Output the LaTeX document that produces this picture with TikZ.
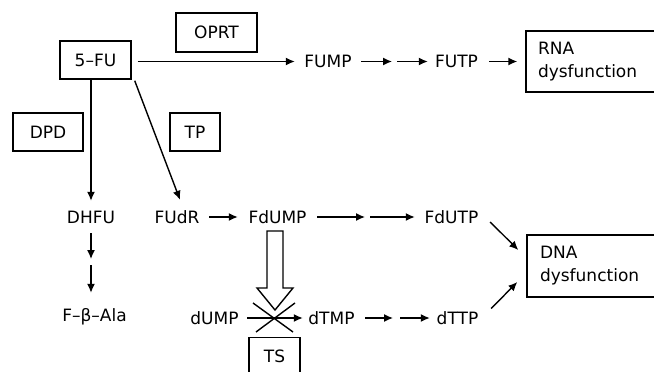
\documentclass[tikz,border=0pt]{standalone}
\usepackage{fontspec}
\setmainfont{DejaVu Sans}
\usetikzlibrary{arrows.meta}
\begin{document}
\begin{tikzpicture}[x=1pt,y=-1pt,
  every node/.style={font=\fontsize{17}{23}\selectfont},
  box/.style={draw, line width=1.4pt, inner sep=0pt},
  lbl/.style={inner sep=0pt},
  arr/.style={-{Latex[length=9pt,width=8pt]}, line width=1.4pt},
  ln/.style={line width=1.4pt}]
\useasboundingbox (0,0) rectangle (654,372);
\clip (0,0) rectangle (654,372);
% boxes
\node[box, minimum width=71pt, minimum height=38pt] (fu) at (95.5,60) {5–FU};
\node[box, minimum width=81pt, minimum height=39pt] (oprt) at (216.5,32.5) {OPRT};
\node[box, minimum width=70pt, minimum height=38pt] (dpd) at (48,132) {DPD};
\node[box, minimum width=50pt, minimum height=38pt] (tp) at (195,132) {TP};
\node[box, minimum width=174pt, minimum height=61pt, text width=150pt, align=left] (rna) at (613,61.5) {RNA\\dysfunction};
\node[box, minimum width=174pt, minimum height=62pt, text width=148pt, align=left] (dna) at (614,266) {DNA\\dysfunction};
\node[box, anchor=north, minimum width=51pt, text height=25pt, text depth=40pt] (ts) at (274.5,337) {TS};
% labels
\node[lbl, minimum width=66pt] (fump) at (328,61.5) {FUMP};
\node[lbl, minimum width=57pt] (futp) at (456.5,61.5) {FUTP};
\node[lbl, minimum height=32pt] (dhfu) at (91,217) {DHFU};
\node[lbl, minimum height=48pt] (fba) at (94.5,317) {F–β–Ala};
\node[lbl, minimum width=64pt, minimum height=34pt] (fudr) at (177,217) {FUdR};
\node[lbl, minimum width=79pt, minimum height=28pt] (fdump) at (277.5,217) {FdUMP};
\node[lbl, minimum width=73pt] (fdutp) at (451.5,217) {FdUTP};
\node[lbl, minimum width=65pt] (dump) at (214.5,318) {dUMP};
\node[lbl, minimum width=57pt] (dtmp) at (331.5,318) {dTMP};
\node[lbl, minimum width=55pt] (dttp) at (457.5,318.5) {dTTP};
% intermediate points
\coordinate (m1) at (394.5,61.5);
\coordinate (m2) at (91,262);
\coordinate (m3) at (367.5,217);
\coordinate (m4) at (396.5,318);
\coordinate (ha) at (275,231);
\coordinate (xc) at (274,317.5);
% connectors
\draw[arr, shorten <=6pt] (fu.east |- fump.west) -- (fump.west);
\draw[arr, shorten >=2.5pt] (fump) -- (m1);
\draw[arr, shorten <=2.5pt] (m1) -- (futp);
\draw[arr, shorten <=4pt, shorten >=8pt] (futp.east) -- (rna.west |- futp.east);
\draw[arr] ([xshift=-4.5pt]fu.south) -- (dhfu.north);
\draw[arr, shorten >=3pt] (dhfu.south) -- (m2);
\draw[arr, shorten <=3pt] (m2) -- (fba.north -| m2);
\draw[arr] ([shift={(3,1)}]fu.south east) -- ([xshift=3pt]fudr.north);
\draw[arr] (fudr) -- (fdump);
\draw[arr, shorten >=2.5pt] (fdump) -- (m3);
\draw[arr, shorten <=2.5pt] (m3) -- (fdutp);
\draw[arr] ([shift={(2,5)}]fdutp.east) -- ([shift={(-8,-16)}]dna.west);
\draw[arr] ([shift={(6,-10)}]dttp.east) -- ([shift={(-9,16)}]dna.west);
\draw[arr] (dump) -- (dtmp);
\draw[arr, shorten <=5pt, shorten >=3.5pt] (dtmp) -- (m4);
\draw[arr, shorten <=3.5pt] (m4) -- (dttp.west |- m4);
% hollow inhibition arrow
\draw[ln, line join=miter] (ha) ++(-8,0) -- ++(0,57) -- ++(-10,0) -- ++(18,22) -- ++(18,-22) -- ++(-10,0) -- ++(0,-57) -- cycle;
% cross
\draw[ln] ([shift={(-21,-14.5)}]xc) -- ([shift={(19,14.5)}]xc);
\draw[ln] ([shift={(21,-14.5)}]xc) -- ([shift={(-18,14.5)}]xc);
\end{tikzpicture}
\end{document}
